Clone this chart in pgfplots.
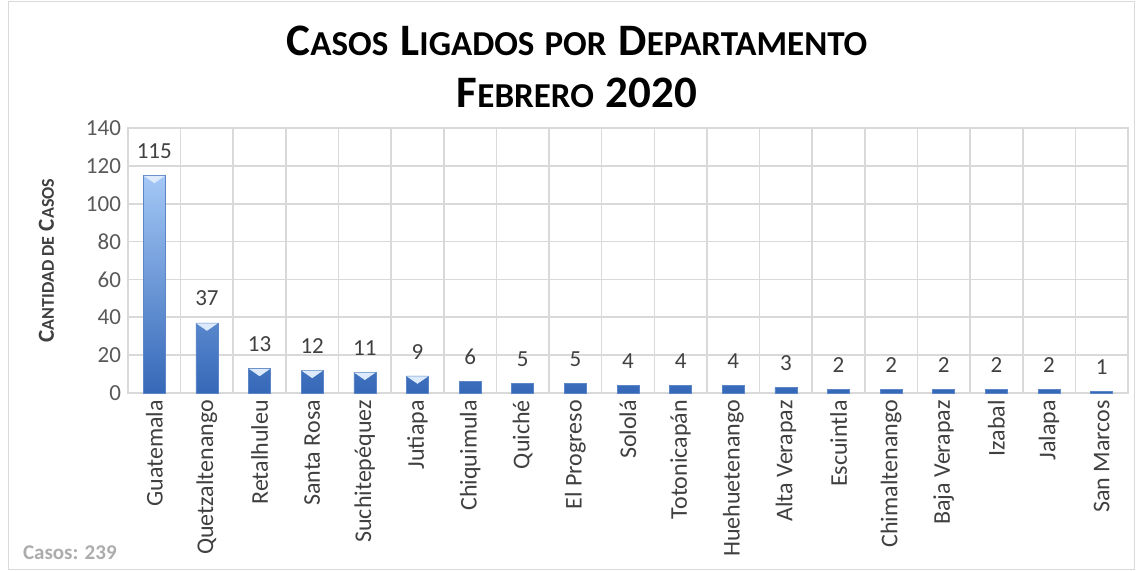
\documentclass[border=0pt]{standalone}
\usepackage{pgfplots}
\pgfplotsset{compat=1.18}
\usepackage{fontspec}
\setmainfont{Carlito}
\definecolor{barlight}{HTML}{A4C8F6}
\definecolor{bardark}{HTML}{3568B8}
\definecolor{capc}{HTML}{DCEAFC}
\definecolor{gridc}{HTML}{D9D9D9}
\definecolor{txt}{HTML}{404040}
\definecolor{tick}{HTML}{595959}

\newcommand{\bigc}[1]{{\fontsize{22.5}{26}\selectfont #1}}
\newcommand{\smc}[1]{{\fontsize{17.5}{26}\selectfont #1}}

\begin{document}
\begin{tikzpicture}
\useasboundingbox (-64pt,-88.5pt) rectangle (504pt,196.5pt);
\draw[gridc] (-60pt,-88pt) rectangle (503pt,196pt);
\begin{axis}[
    scale only axis,
    width=500pt, height=132.5pt,
    ymin=0, ymax=140, ytick={0,20,...,140},
    xmin=-0.5, xmax=18.5,
    xtick={0,...,18},
    xticklabels={Guatemala,Quetzaltenango,Retalhuleu,Santa Rosa,Suchitepéquez,Jutiapa,Chiquimula,Quiché,El Progreso,Sololá,Totonicapán,Huehuetenango,Alta Verapaz,Escuintla,Chimaltenango,Baja Verapaz,Izabal,Jalapa,San Marcos},
    minor xtick={-0.5,0.5,...,18.5},
    xminorgrids=true, ymajorgrids=true,
    grid style={gridc, line width=0.8pt},
    minor grid style={gridc, line width=0.8pt},
    axis line style={gridc, line width=0.8pt},
    major tick length=0pt, minor tick length=0pt,
    x tick label style={rotate=90, anchor=east, font=\fontsize{12}{13}\selectfont, text=txt},
    y tick label style={font=\fontsize{11.5}{13}\selectfont, text=tick},
    /pgf/number format/assume math mode=true,
    ylabel={\textbf{\fontsize{11.5}{13}\selectfont C{\fontsize{9}{13}\selectfont ANTIDAD DE} C{\fontsize{9}{13}\selectfont ASOS}}},
    ylabel style={text=txt, at={(axis description cs:-0.067,0.5)}},
    clip=false,
]
\addplot[ybar, bar width=11pt, draw=bardark!80, line width=0.3pt, top color=barlight, bottom color=bardark,
    nodes near coords,
    every node near coord/.append style={font=\fontsize{11.5}{13}\selectfont, text=txt, yshift=5pt}] coordinates {
(0,115) (1,37) (2,13) (3,12) (4,11) (5,9) (6,6) (7,5) (8,5) (9,4) (10,4) (11,4) (12,3) (13,2) (14,2) (15,2) (16,2) (17,2) (18,1)
};
\addplot[only marks, color=capc, mark=triangle*, mark size=5.4pt,
    mark options={solid, fill=capc, draw=capc, yshift=-1.5pt, rotate=180, yscale=0.4}] coordinates {
(0,115) (1,37) (2,13) (3,12) (4,11) (5,9)
};
\end{axis}
\node[text=black] at (224.5pt,176pt) {\textbf{\bigc{C}\smc{ASOS}\hspace{6pt}\bigc{L}\smc{IGADOS}\hspace{5pt}\smc{POR}\hspace{6pt}\bigc{D}\smc{EPARTAMENTO}}};
\node[text=black] at (224.5pt,150pt) {\textbf{\bigc{F}\smc{EBRERO}\hspace{6pt}\bigc{2020}}};
\node[anchor=west, text=gray!65, font=\fontsize{10.5}{12}\selectfont\bfseries] at (-56pt,-80pt) {Casos: 239};
\end{tikzpicture}
\end{document}
